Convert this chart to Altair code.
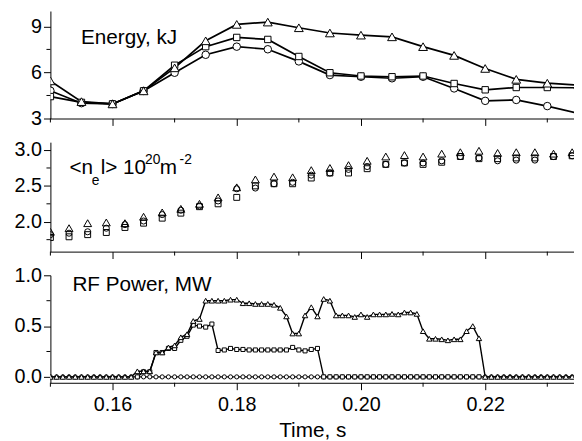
import altair as alt
import pandas as pd

FONT = "Liberation Sans"

# ---------------- data ----------------
energy_t = [0.150, 0.155, 0.160, 0.165, 0.170, 0.175, 0.180, 0.185, 0.190,
            0.195, 0.200, 0.205, 0.210, 0.215, 0.220, 0.225, 0.230, 0.235]
energy_tri = [5.45, 4.10, 3.95, 4.80, 6.30, 8.06, 9.13, 9.28, 8.91,
              8.57, 8.43, 8.32, 7.68, 7.11, 6.26, 5.55, 5.30, 5.17]
energy_sq = [4.43, 4.05, 3.95, 4.80, 6.47, 7.68, 8.28, 8.15, 7.04,
             5.98, 5.77, 5.72, 5.77, 5.28, 4.87, 5.02, 5.02, 5.00]
energy_circ = [4.81, 4.00, 3.95, 4.80, 5.98, 7.15, 7.68, 7.51, 6.72,
               5.83, 5.72, 5.62, 5.72, 4.96, 4.15, 4.21, 3.81, 3.33]

dens_t = [0.150, 0.153, 0.156, 0.159, 0.162, 0.165, 0.168, 0.171, 0.174, 0.177,
          0.180, 0.183, 0.186, 0.189, 0.192, 0.195, 0.198, 0.201, 0.204, 0.207,
          0.210, 0.213, 0.216, 0.219, 0.222, 0.225, 0.228, 0.231, 0.234]
dens_tri = [1.86, 1.91, 1.98, 1.99, 1.98, 2.07, 2.13, 2.18, 2.25, 2.34,
            2.48, 2.59, 2.63, 2.62, 2.72, 2.75, 2.79, 2.85, 2.91, 2.93,
            2.91, 2.95, 2.97, 2.99, 2.96, 2.97, 2.97, 2.95, 2.97]
dens_circ = [1.82, 1.84, 1.86, 1.91, 1.96, 2.01, 2.10, 2.16, 2.22, 2.29,
             2.46, 2.47, 2.53, 2.55, 2.65, 2.68, 2.73, 2.77, 2.80, 2.82,
             2.82, 2.85, 2.91, 2.89, 2.85, 2.86, 2.86, 2.91, 2.92]
dens_sq = [1.78, 1.79, 1.82, 1.85, 1.92, 1.98, 2.05, 2.12, 2.21, 2.25,
           2.34, 2.50, 2.53, 2.53, 2.61, 2.68, 2.68, 2.74, 2.80, 2.82,
           2.80, 2.83, 2.91, 2.88, 2.88, 2.89, 2.89, 2.91, 2.92]

rf_t = [round(0.150 + 0.001 * i, 3) for i in range(85)]
rf_tri = [0.0, 0.0, 0.0, 0.0, 0.0, 0.0, 0.0, 0.0, 0.0, 0.0,          # 0.150-0.159
          0.0, 0.0, 0.0, 0.0, 0.055, 0.055, 0.055, 0.24, 0.24, 0.29,  # 0.160-0.169
          0.31, 0.39, 0.42, 0.55, 0.57, 0.75, 0.75, 0.75, 0.75, 0.76,  # 0.170-0.179
          0.76, 0.725, 0.725, 0.718, 0.718, 0.718, 0.71, 0.68, 0.595, 0.427,  # 0.180-0.189
          0.427, 0.605, 0.686, 0.595, 0.767, 0.75, 0.605, 0.605, 0.605, 0.59,  # 0.190-0.199
          0.615, 0.59, 0.615, 0.615, 0.615, 0.62, 0.615, 0.634, 0.634, 0.62,  # 0.200-0.209
          0.45, 0.375, 0.375, 0.37, 0.36, 0.37, 0.37, 0.45, 0.50, 0.38,  # 0.210-0.219
          0.0, 0.0, 0.0, 0.0, 0.0, 0.0, 0.0, 0.0, 0.0, 0.0,            # 0.220-0.229
          0.0, 0.0, 0.0, 0.0, 0.0]                                      # 0.230-0.234
rf_sq_t = rf_t[14:70]  # 0.164 - 0.219
rf_sq = [0.0, 0.05, 0.05, 0.24, 0.24, 0.28,                    # 0.164-0.169
         0.28, 0.36, 0.40, 0.51, 0.50, 0.49, 0.52, 0.26, 0.265, 0.28,  # 0.170-0.179
         0.27, 0.27, 0.265, 0.265, 0.265, 0.265, 0.265, 0.265, 0.265, 0.29,  # 0.180-0.189
         0.265, 0.256, 0.27, 0.28, 0.0, 0.0, 0.0, 0.0, 0.0, 0.0,   # 0.190-0.199
         0.0, 0.0, 0.0, 0.0, 0.0, 0.0, 0.0, 0.0, 0.0, 0.0,         # 0.200-0.209
         0.0, 0.0, 0.0, 0.0, 0.0, 0.0, 0.0, 0.0, 0.0, 0.0]         # 0.210-0.219
rf_circ = [0.0, 0.0, 0.0, 0.0, 0.0, 0.0, 0.0, 0.0, 0.0, 0.0,
           0.0, 0.0, 0.0, 0.0, 0.0, 0.0, 0.0, 0.0, 0.0, 0.0,
           0.0, 0.0, 0.0, 0.0, 0.0, 0.0, 0.0, 0.0, 0.0, 0.0,
           0.0, 0.0, 0.0, 0.0, 0.0, 0.0, 0.0, 0.0, 0.0, 0.0,
           0.0, 0.0, 0.0, 0.0, 0.0, 0.0, 0.0, 0.0, 0.0, 0.0,
           0.0, 0.0, 0.0, 0.0, 0.0, 0.0, 0.0, 0.0, 0.0, 0.0,
           0.0, 0.0, 0.0, 0.0, 0.0, 0.0, 0.0, 0.0, 0.0, 0.0,
           0.0, 0.0, 0.0, 0.0, 0.0, 0.0, 0.0, 0.0, 0.0, 0.0,
           0.0, 0.0, 0.0, 0.0, 0.0]

x_major = [0.16, 0.18, 0.20, 0.22]
x_minor = [0.15, 0.17, 0.19, 0.21, 0.23]

p1_major = [3, 6, 9]
p1_minor = [4.5, 7.5]
p2_major = [2.0, 2.5, 3.0]
p2_minor = [1.75, 2.25, 2.75]
p3_major = [0.0, 0.5, 1.0]
p3_minor = [0.25, 0.75]

# ---------------- layout ----------------
W = 531
X_DOM = [0.15, 0.2343]
xscale = alt.Scale(domain=X_DOM, nice=False, zero=False)

AX_COMMON = dict(grid=False, domainColor="black", domainWidth=1, tickColor="black",
                 tickWidth=1, labelColor="black", labelFont=FONT, labelFontSize=20)


def x_enc(labels, title=None):
    kw = dict(AX_COMMON)
    kw.update(values=x_major, format=".2f", labels=labels, tickSize=7, labelPadding=5)
    if title:
        kw.update(title=title, titleFont=FONT, titleFontSize=21, titleFontWeight="normal",
                  titleColor="black", titlePadding=5)
    else:
        kw.update(title=None)
    return alt.X("t:Q", scale=xscale, axis=alt.Axis(**kw))


def y_enc(domain, values, fmt):
    kw = dict(AX_COMMON)
    kw.update(values=values, format=fmt, tickSize=7, labelPadding=2, title=None,
              minExtent=43, maxExtent=43)
    return alt.Y("v:Q", scale=alt.Scale(domain=domain, nice=False, zero=False), axis=alt.Axis(**kw))


def df(t, v):
    return pd.DataFrame({"t": t, "v": v})


def line(t, v, X, Y, sw):
    return alt.Chart(df(t, v)).mark_line(color="black", strokeWidth=sw, clip=True).encode(x=X, y=Y)


def pts(t, v, X, Y, shape, size, filled=True):
    if filled:
        m = alt.Chart(df(t, v)).mark_point(shape=shape, size=size, filled=True, fill="white",
                                           stroke="black", strokeWidth=1, opacity=1, clip=True)
    else:
        m = alt.Chart(df(t, v)).mark_point(shape=shape, size=size, filled=False,
                                           stroke="black", strokeWidth=1, opacity=1, clip=True)
    return m.encode(x=X, y=Y)


def minor_ticks(H, X, Y, yminor):
    # same encodings (and thus same axis definitions) as the data layers
    xs = alt.Chart(pd.DataFrame({"t": x_minor})).mark_rule(color="black", strokeWidth=1).encode(
        x=X, y=alt.value(H), y2=alt.value(H + 4))
    ys = alt.Chart(pd.DataFrame({"v": yminor})).mark_rule(color="black", strokeWidth=1).encode(
        y=Y, x=alt.value(0), x2=alt.value(-4))
    return [xs, ys]


def label(text, x, y, size=21):
    return alt.Chart(pd.DataFrame({"s": [text]})).mark_text(
        font=FONT, fontSize=size, color="black", align="left", baseline="alphabetic").encode(
        text="s:N", x=alt.value(x), y=alt.value(y))


# Panel 1: Energy
H1 = 109
D1 = [3, 10]
X1 = x_enc(False)
Y1 = y_enc(D1, p1_major, "d")
p1 = alt.layer(
    line(energy_t, energy_circ, X1, Y1, 1.7),
    line(energy_t, energy_sq, X1, Y1, 1.7),
    line(energy_t, energy_tri, X1, Y1, 1.7),
    pts(energy_t, energy_circ, X1, Y1, "circle", 58),
    pts(energy_t, energy_sq, X1, Y1, "square", 42),
    pts(energy_t, energy_tri, X1, Y1, "triangle-up", 80),
    *minor_ticks(H1, X1, Y1, p1_minor),
    label("Energy, kJ", 31, 33.4),
).properties(width=W, height=H1)

# Panel 2: density
H2 = 111
D2 = [1.583, 3.11]
X2 = x_enc(False)
Y2 = y_enc(D2, p2_major, ".1f")
p2 = alt.layer(
    pts(dens_t, dens_sq, X2, Y2, "square", 36, filled=False),
    pts(dens_t, dens_circ, X2, Y2, "circle", 38, filled=False),
    pts(dens_t, dens_tri, X2, Y2, "triangle-up", 64, filled=False),
    *minor_ticks(H2, X2, Y2, p2_minor),
    label("<n", 19.3, 32.3),
    label("e", 42.0, 43.3, 14),
    label("l> 10", 51.0, 32.3),
    label("20", 96.0, 22.3, 14),
    label("m", 111.0, 32.3),
    label("-2", 131.0, 22.3, 14),
).properties(width=W, height=H2)

# Panel 3: RF power
H3 = 109
D3 = [-0.058, 1.0]
X3 = x_enc(True, "Time, s")
Y3 = y_enc(D3, p3_major, ".1f")
p3 = alt.layer(
    line(rf_t, rf_circ, X3, Y3, 1.4),
    pts(rf_t, rf_circ, X3, Y3, "circle", 18),
    line(rf_sq_t, rf_sq, X3, Y3, 1.4),
    pts(rf_sq_t, rf_sq, X3, Y3, "square", 17),
    line(rf_t, rf_tri, X3, Y3, 1.4),
    pts(rf_t, rf_tri, X3, Y3, "triangle-up", 30),
    *minor_ticks(H3, X3, Y3, p3_minor),
    label("RF Power, MW", 22.3, 15.7),
).properties(width=W, height=H3)

chart = alt.vconcat(p1, p2, p3, spacing=24, bounds="flush").properties(
    padding={"left": 0, "top": 0, "right": 0, "bottom": 0},
    background="white",
).configure_view(stroke=None)

chart.save("out.html", embed_options={"renderer": "svg", "actions": False})
